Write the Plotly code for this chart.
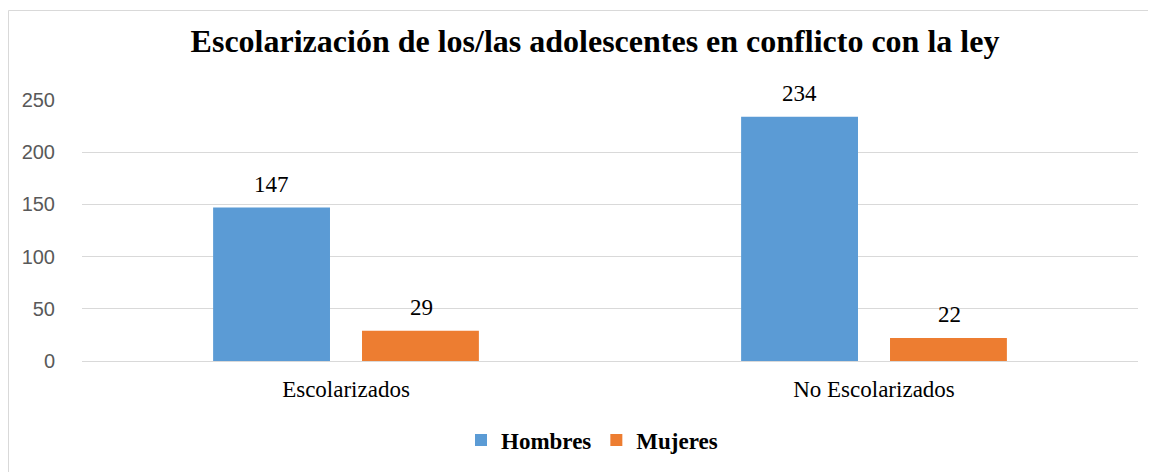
import plotly.graph_objects as go

categories = ["Escolarizados", "No Escolarizados"]
hombres = [147, 234]
mujeres = [29, 22]
y_ticks = [0, 50, 100, 150, 200, 250]

# page body has an 8px offset; figure coordinates = screen coordinates - 8
OFF = 8
W, H = 1156 - OFF, 472 - OFF
L, T = 82 - OFF, 100 - OFF
R = W - (1138 - OFF)
B = H - (361 - OFF)
pw, ph = W - L - R, H - T - B

def px(x):  # screen x -> paper
    return (x - OFF - L) / pw

def py(y):  # screen y -> paper
    return (H - B - (y - OFF)) / ph

serif = "Liberation Serif, Times New Roman, serif"
fig = go.Figure()
fig.add_trace(go.Bar(name="<b>Hombres</b>", x=categories, y=hombres, marker_color="#5B9BD5",
                     marker_line_width=0, cliponaxis=False))
fig.add_trace(go.Bar(name="<b>Mujeres</b>", x=categories, y=mujeres, marker_color="#ED7D31",
                     marker_line_width=0, cliponaxis=False))

annotations = []
for cat, v in zip(categories, hombres):
    annotations.append(dict(x=cat, y=v, xref="x", yref="y", text=str(v), showarrow=False,
                            xshift=-75, yshift=9, yanchor="bottom",
                            font=dict(family=serif, size=23, color="#000000")))
for cat, v in zip(categories, mujeres):
    annotations.append(dict(x=cat, y=v, xref="x", yref="y", text=str(v), showarrow=False,
                            xshift=75, yshift=9, yanchor="bottom",
                            font=dict(family=serif, size=23, color="#000000")))

fig.update_layout(
    width=W, height=H,
    margin=dict(l=L, r=R, t=T, b=B, autoexpand=False),
    paper_bgcolor="white", plot_bgcolor="white",
    barmode="group", bargap=0.436, bargroupgap=0.215,
    title=dict(text="<b>Escolarización de los/las adolescentes en conflicto con la ley</b>",
               x=(595 - OFF) / W, xanchor="center", y=1 - (41 - OFF) / H, yanchor="middle",
               font=dict(family=serif, size=32, color="#000000")),
    legend=dict(orientation="h", x=px(592), xanchor="center", y=py(440), yanchor="middle",
                font=dict(family=serif, size=23, color="#000000"),
                traceorder="normal"),
    xaxis=dict(showgrid=False, showline=False, ticks="outside", ticklen=7, tickcolor="rgba(0,0,0,0)",
               tickfont=dict(family=serif, size=23, color="#000000")),
    yaxis=dict(range=[0, 250], tickvals=y_ticks, showgrid=True, gridcolor="#D9D9D9", gridwidth=1,
               zeroline=True, zerolinecolor="#D9D9D9", zerolinewidth=1, showline=False,
               ticks="outside", ticklen=22, tickcolor="rgba(0,0,0,0)",
               tickfont=dict(family="Liberation Sans, Arial, sans-serif", size=20, color="#595959")),
    annotations=annotations,
    shapes=[dict(type="rect", xref="paper", yref="paper",
                 x0=px(8.5), x1=px(1180), y0=py(500), y1=py(10.5),
                 line=dict(color="#D9D9D9", width=1), fillcolor="rgba(0,0,0,0)", layer="below")],
)

fig.write_html("out.html")
